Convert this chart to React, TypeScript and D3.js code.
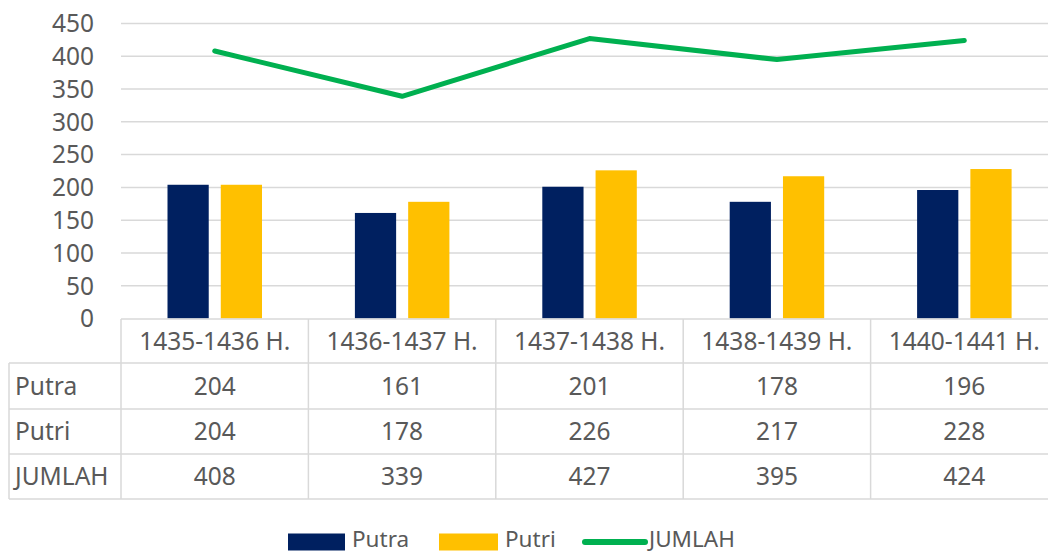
import React from "react";
import * as d3 from "d3";

const categories = ["1435-1436 H.", "1436-1437 H.", "1437-1438 H.", "1438-1439 H.", "1440-1441 H."];
const putra = [204, 161, 201, 178, 196];
const putri = [204, 178, 226, 217, 228];
const jumlah = [408, 339, 427, 395, 424];
const yTicks = [0, 50, 100, 150, 200, 250, 300, 350, 400, 450];
const seriesNames = ["Putra", "Putri", "JUMLAH"];

const W = 1048, H = 554;
const left = 121, right = 1058, top = 23.5, bottom = 318.5;
const colors = { Putra: "#002060", Putri: "#FFC000", JUMLAH: "#00B050" };
const textColor = "#595959";
const gridColor = "#D9D9D9";
const font = "'Noto Sans', sans-serif";
const fs = 24.5;

export default function App() {
  const x = d3.scaleBand<string>().domain(categories).range([left, right]).paddingInner(0).paddingOuter(0);
  const y = d3.scaleLinear().domain([0, 450]).range([bottom, top]);
  const inner = d3.scaleBand<string>().domain(["Putra", "Putri"]).range([46.5, 141]).paddingInner(0.226);
  const line = d3.line<number>().x((_, i) => (x(categories[i]) as number) + x.bandwidth() / 2).y(d => y(d));

  const tableTop = 319;
  const rowH = 45;
  const rowLabels = ["Putra", "Putri", "JUMLAH"];
  const rowData = [putra, putri, jumlah];
  const tableLeft = 9;
  const legY = 542;

  return (
    <svg width={W} height={H} style={{ display: "block", position: "absolute", left: 0, top: 0 }} fontFamily={font}>
      <rect width={W} height={H} fill="#fff" />
      {yTicks.map(t => (
        <g key={t}>
          {t > 0 && <line x1={left} x2={right} y1={y(t)} y2={y(t)} stroke={gridColor} strokeWidth={1.5} />}
          <text x={94} y={y(t)} dy="0.36em" textAnchor="end" fontSize={fs} fill={textColor}>{t}</text>
        </g>
      ))}
      {categories.map((c, i) => (
        <g key={c}>
          <rect x={(x(c) as number) + (inner("Putra") as number)} y={y(putra[i])} width={inner.bandwidth()} height={bottom - y(putra[i])} fill={colors.Putra} />
          <rect x={(x(c) as number) + (inner("Putri") as number)} y={y(putri[i])} width={inner.bandwidth()} height={bottom - y(putri[i])} fill={colors.Putri} />
        </g>
      ))}
      <path d={line(jumlah) as string} fill="none" stroke={colors.JUMLAH} strokeWidth={5} strokeLinecap="round" strokeLinejoin="round" />
      {/* data table */}
      <g stroke={gridColor} strokeWidth={1.5}>
        <line x1={left} x2={right} y1={tableTop} y2={tableTop} />
        {[1, 2, 3, 4].map(r => (
          <line key={r} x1={tableLeft} x2={right} y1={tableTop + rowH * r - (r === 1 ? 1 : 0)} y2={tableTop + rowH * r - (r === 1 ? 1 : 0)} />
        ))}
        <line x1={tableLeft} x2={tableLeft} y1={tableTop + rowH - 1} y2={tableTop + rowH * 4} />
        {categories.map(c => (
          <line key={c} x1={x(c) as number} x2={x(c) as number} y1={tableTop} y2={tableTop + rowH * 4} />
        ))}
      </g>
      {categories.map(c => (
        <text key={c} x={(x(c) as number) + x.bandwidth() / 2} y={tableTop + rowH / 2} dy="0.36em" textAnchor="middle" fontSize={fs} fill={textColor}>{c}</text>
      ))}
      {rowLabels.map((lab, r) => (
        <g key={lab}>
          <text x={15} y={tableTop + rowH * (r + 1) + rowH / 2} dy="0.36em" fontSize={fs} fill={textColor}>{lab}</text>
          {rowData[r].map((v, i) => (
            <text key={i} x={(x(categories[i]) as number) + x.bandwidth() / 2} y={tableTop + rowH * (r + 1) + rowH / 2} dy="0.36em" textAnchor="middle" fontSize={fs} fill={textColor}>{v}</text>
          ))}
        </g>
      ))}
      {/* legend */}
      <g>
        <rect x={288} y={legY - 8.5} width={57} height={17} fill={colors.Putra} />
        <text x={352} y={legY - 3} dy="0.36em" fontSize={22.5} fill={textColor}>{seriesNames[0]}</text>
        <rect x={439} y={legY - 8.5} width={59} height={17} fill={colors.Putri} />
        <text x={505} y={legY - 3} dy="0.36em" fontSize={22.5} fill={textColor}>{seriesNames[1]}</text>
        <line x1={585} x2={645} y1={legY} y2={legY} stroke={colors.JUMLAH} strokeWidth={6} strokeLinecap="round" />
        <text x={649} y={legY - 3} dy="0.36em" fontSize={22.5} fill={textColor}>{seriesNames[2]}</text>
      </g>
    </svg>
  );
}
